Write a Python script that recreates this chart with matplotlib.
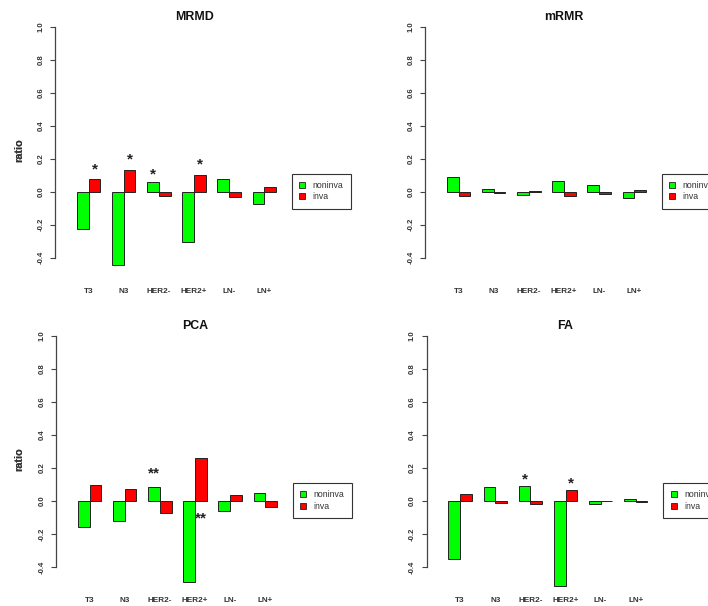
import matplotlib
matplotlib.use("Agg")
import matplotlib.pyplot as plt
from matplotlib.patches import Patch
import numpy as np

plt.rcParams['font.family'] = ['Liberation Sans', 'DejaVu Sans']

categories = ["T3", "N3", "HER2-", "HER2+", "LN-", "LN+"]
series_names = ["noninva", "inva"]
series_colors = ["#00FF00", "#FF0000"]

mrmd_noninva = [-0.224, -0.444, 0.061, -0.307, 0.077, -0.073]
mrmd_inva = [0.075, 0.131, -0.024, 0.101, -0.034, 0.026]
mrmr_noninva = [0.091, 0.014, -0.018, 0.065, 0.038, -0.038]
mrmr_inva = [-0.026, -0.006, 0.004, -0.024, -0.014, 0.010]
pca_noninva = [-0.160, -0.123, 0.087, -0.493, -0.063, 0.048]
pca_inva = [0.095, 0.073, -0.073, 0.261, 0.038, -0.034]
fa_noninva = [-0.349, 0.083, 0.091, -0.513, -0.018, 0.014]
fa_inva = [0.044, -0.014, -0.016, 0.065, 0.002, -0.006]

# significance marks: (category index, series index, mark, y position)
mrmd_marks = [(0, 1, "*", 0.135), (1, 1, "*", 0.195), (2, 0, "*", 0.104), (3, 1, "*", 0.165)]
mrmr_marks = []
pca_marks = [(2, 0, "**", 0.169), (3, 1, "**", -0.106)]
fa_marks = [(2, 0, "*", 0.133), (3, 1, "*", 0.108)]

y_ticks = [-0.4, -0.2, 0.0, 0.2, 0.4, 0.6, 0.8, 1.0]

panels = [
    ("MRMD", mrmd_noninva, mrmd_inva, mrmd_marks, 55.0, 191.7),
    ("mRMR", mrmr_noninva, mrmr_inva, mrmr_marks, 425.0, 191.7),
    ("PCA", pca_noninva, pca_inva, pca_marks, 56.0, 501.0),
    ("FA", fa_noninva, fa_inva, fa_marks, 426.5, 501.0),
]

W, H = 708, 606
fig = plt.figure(figsize=(W / 100, H / 100), dpi=100)

XLIM = (-0.88, 22.88)
YLIM = (-0.56, 1.06)
ax_w = 278.0
ax_h = 267.3
below_zero = 92.4
edge = "#222222"

for title, noninva, inva, marks, left_px, zero_px in panels:
    ax = fig.add_axes([left_px / W, 1 - (zero_px + below_zero) / H, ax_w / W, ax_h / H])
    ax.set_xlim(*XLIM)
    ax.set_ylim(*YLIM)

    groups = np.arange(len(categories)) * 3
    x_non = groups + 1.5
    x_inv = groups + 2.5
    ax.bar(x_non, noninva, width=1, color=series_colors[0], edgecolor=edge, linewidth=0.7)
    ax.bar(x_inv, inva, width=1, color=series_colors[1], edgecolor=edge, linewidth=0.7)

    for cat, ser, mark, y in marks:
        x = (x_non if ser == 0 else x_inv)[cat]
        ax.text(x, y, mark, ha="center", va="center", fontsize=11,
                fontweight="bold", color="#222222")

    for s in ["top", "right", "bottom"]:
        ax.spines[s].set_visible(False)
    ax.spines["left"].set_bounds(-0.4, 1.0)
    ax.spines["left"].set_color("#444444")
    ax.spines["left"].set_linewidth(0.9)

    ax.set_yticks(y_ticks)
    ax.set_yticklabels([f"{t:.1f}" for t in y_ticks], rotation=90, va="center",
                       fontsize=5.6, fontweight="bold", color="#333333")
    ax.tick_params(axis="y", length=3.6, width=0.8, color="#444444", pad=4)

    ax.set_xticks(groups + 2)
    ax.set_xticklabels(categories, fontsize=5.9, fontweight="bold", color="#333333")
    ax.tick_params(axis="x", length=0, pad=2.5)

    ax.set_ylabel("ratio", fontsize=7.8, fontweight="bold", color="#333333", va="center")
    ax.yaxis.set_label_coords((19 - left_px) / ax_w, (below_zero + 191.7 - 150) / ax_h)

    ax.text(0.5, 1.0, title, transform=ax.transAxes, ha="center", va="center",
            fontsize=8.9, fontweight="bold", color="#111111")

    handles = [Patch(facecolor=series_colors[0], edgecolor=edge, linewidth=0.6),
               Patch(facecolor=series_colors[1], edgecolor=edge, linewidth=0.6)]
    leg = ax.legend(handles, series_names, loc="upper left",
                    bbox_to_anchor=((291.7 - 55) / ax_w, (below_zero + 18.0) / ax_h),
                    borderaxespad=0, fontsize=6.3, handlelength=0.7, handleheight=0.7,
                    handletextpad=0.85, borderpad=0.85, labelspacing=0.25,
                    frameon=True, fancybox=False, framealpha=1)
    leg.get_frame().set_edgecolor("#333333")
    leg.get_frame().set_linewidth(0.8)
    for t in leg.get_texts():
        t.set_color("#333333")

fig.savefig("out.png", dpi=100)
